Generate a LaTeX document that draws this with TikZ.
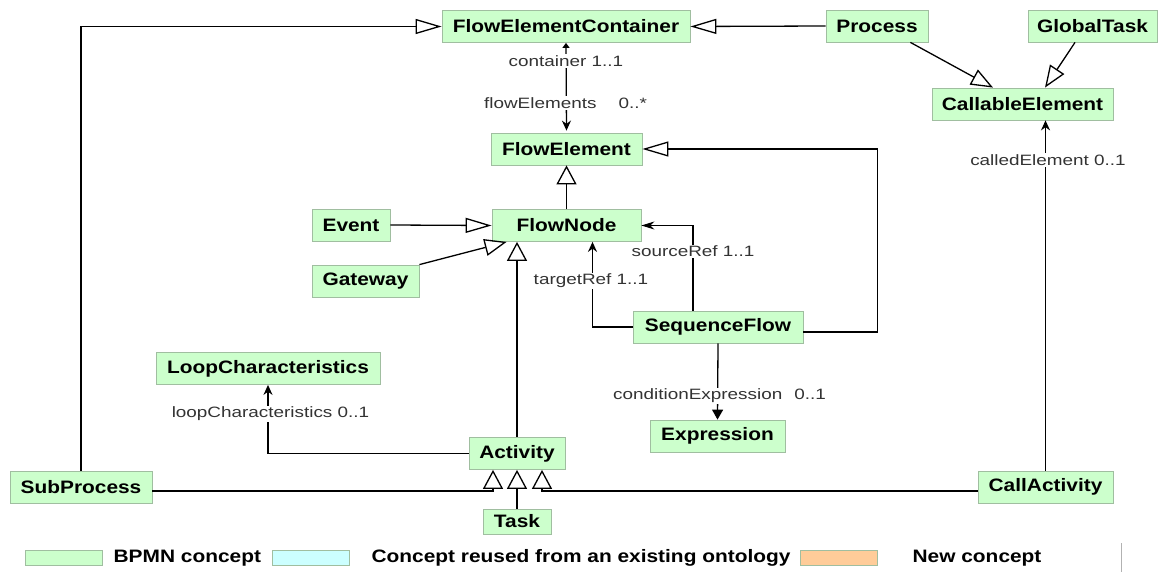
\documentclass[tikz,border=0pt]{standalone}
\usepackage{fontspec}
\setmainfont{Liberation Sans}[FakeStretch=1.16]
\newfontfamily\rolefont{Liberation Sans}[FakeStretch=1.26]
\usetikzlibrary{arrows.meta}
\definecolor{bpmngreen}{RGB}{204,255,204}
\definecolor{reusecyan}{RGB}{204,255,255}
\definecolor{neworange}{RGB}{255,204,153}
\definecolor{boxline}{RGB}{160,190,160}

\begin{document}
\begin{tikzpicture}[x=1pt, y=-1pt, line width=1.3pt]
        \useasboundingbox (0,0) rectangle (1158,572);
        % Setup the styles for the concepts
        \tikzset{concept style/.style={fill=bpmngreen,
                                    draw=boxline,
                                    line width=0.8pt,
                                    minimum height=32pt,
                                    inner sep=0pt,
                                    font=\bfseries\fontsize{18}{20}\selectfont}}
        \tikzset{role style/.style={fill=white,
                                    inner sep=1pt,
                                    text=black!80,
                                    font=\rolefont\fontsize{15}{17}\selectfont}}
        \tikzset{key style/.style={draw=boxline,
                                    line width=0.8pt,
                                    minimum width=77pt,
                                    minimum height=15pt,
                                    inner sep=0pt}}
        \tikzset{key text/.style={anchor=west,
                                    inner sep=0pt,
                                    font=\bfseries\fontsize{18}{20}\selectfont}}
        \tikzset{gen h/.style={-{Triangle[open, length=26pt, width=15pt]}}}
        \tikzset{gen v/.style={-{Triangle[open, length=19pt, width=20pt]}}}
        \tikzset{gen d/.style={-{Triangle[open, length=22pt, width=17pt]}}}
        \tikzset{ref/.style={-{Stealth[length=10pt, width=9pt]}}}
        \tikzset{ref h/.style={-{Stealth[length=13pt, width=8pt]}}}

        % Draw the concepts
        \node[concept style, minimum width=248pt] at (566, 26.5)   (container)    {FlowElementContainer};
        \node[concept style, minimum width=102pt] at (877, 26)     (process)      {Process};
        \node[concept style, minimum width=129pt] at (1092.5, 26)  (globaltask)   {GlobalTask};
        \node[concept style, minimum width=181pt] at (1022.5, 104) (callable)     {CallableElement};
        \node[concept style, minimum width=151pt] at (566.5, 149)  (flowelement)  {FlowElement};
        \node[concept style, minimum width=149pt] at (566.5, 225.5) (flownode)    {FlowNode};
        \node[concept style, minimum width=78pt]  at (351, 225)    (event)        {Event};
        \node[concept style, minimum width=107pt] at (365.5, 281)  (gateway)      {Gateway};
        \node[concept style, minimum width=170pt] at (718, 327)    (seqflow)      {SequenceFlow};
        \node[concept style, minimum width=224pt] at (268, 368.5)  (loopchar)     {LoopCharacteristics};
        \node[concept style, minimum width=135pt] at (717.5, 436)  (expression)   {Expression};
        \node[concept style, minimum width=96pt]  at (517, 453.5)  (activity)     {Activity};
        \node[concept style, minimum width=142pt] at (81, 487)     (subprocess)   {SubProcess};
        \node[concept style, minimum width=135pt] at (1045.5, 487) (callactivity) {CallActivity};
        \node[concept style, minimum width=68pt, minimum height=25pt] at (517, 521.5) (task) {Task};

        % Connect the concepts with arrows
        \draw[gen h] (subprocess.north) |- (container.west);
        \draw[gen h] (process.west) -- (container.east);
        \draw[gen d] ([xshift=-18pt]process.south east) -- ([xshift=-29.5pt]callable.north);
        \draw[gen d] ([xshift=-17.5pt]globaltask.south) -- ([xshift=22.5pt]callable.north);
        \draw[{Triangle[length=5pt, width=7pt]}-{Stealth[length=10pt, width=9pt]}, shorten >=2pt]
            (container.south) -- (flowelement.north);
        \draw[gen v] (flownode.north) -- (flowelement.south);
        \draw[gen h] (event.east) -- (flownode.west);
        \draw[gen d] (gateway.north east) -- ([xshift=15pt]flownode.south west);
        \draw[gen v] (activity.north) -- (activity.north |- flownode.south);
        \draw[gen h] ([yshift=-5pt]seqflow.east) -| ([xshift=235pt]flowelement.east) -- (flowelement.east);
        \draw[ref] (seqflow.west) -| ([xshift=26pt]flownode.south);
        \draw[ref h] ([xshift=-25pt]seqflow.north) |- (flownode.east);
        \draw[-{Triangle[length=10pt, width=11pt]}] (seqflow.south) -- (expression.north);
        \draw[ref] (callactivity.north) -- (callactivity.north |- callable.south);
        \draw[ref] (activity.west) -| (loopchar.south);
        \draw[gen v] ([yshift=-4pt]subprocess.east) -| ([xshift=-24pt]activity.south);
        \draw[gen v] ([yshift=-4pt]callactivity.west) -| ([xshift=25pt]activity.south);
        \draw[gen v] (task.north) -- (activity.south);

        % Role names
        \node[role style] at (566, 61)     (containerrole) {container 1..1};
        \node[role style] at (565.5, 103)  (elementsrole)  {flowElements\hspace{22pt}0..*};
        \node[role style] at (591, 281)    (targetrole)    {targetRef 1..1};
        \node[role style] at (693, 251)    (sourcerole)    {sourceRef 1..1};
        \node[role style] at (719.5, 396)  (conditionrole) {conditionExpression\hspace{12pt}0..1};
        \node[role style] at (1048, 160)   (calledrole)    {calledElement 0..1};
        \node[role style] at (270.5, 414)  (looprole)      {loopCharacteristics 0..1};

        % Legend
        \node[key style, fill=bpmngreen] at (63.5, 557.5)  (keybpmn)   {};
        \node[key text] at (113, 558)                      (bpmntext)  {BPMN concept};
        \node[key style, fill=reusecyan] at (310.5, 557.5) (keyreuse)  {};
        \node[key text] at (371, 558)                      (reusetext) {Concept reused from an existing ontology};
        \node[key style, fill=neworange] at (838.5, 557.5) (keynew)    {};
        \node[key text] at (912, 558)                      (newtext)   {New concept};
        \draw[gray!60, line width=1pt] (1121, 543) -- (1121, 572);
\end{tikzpicture}
\end{document}
